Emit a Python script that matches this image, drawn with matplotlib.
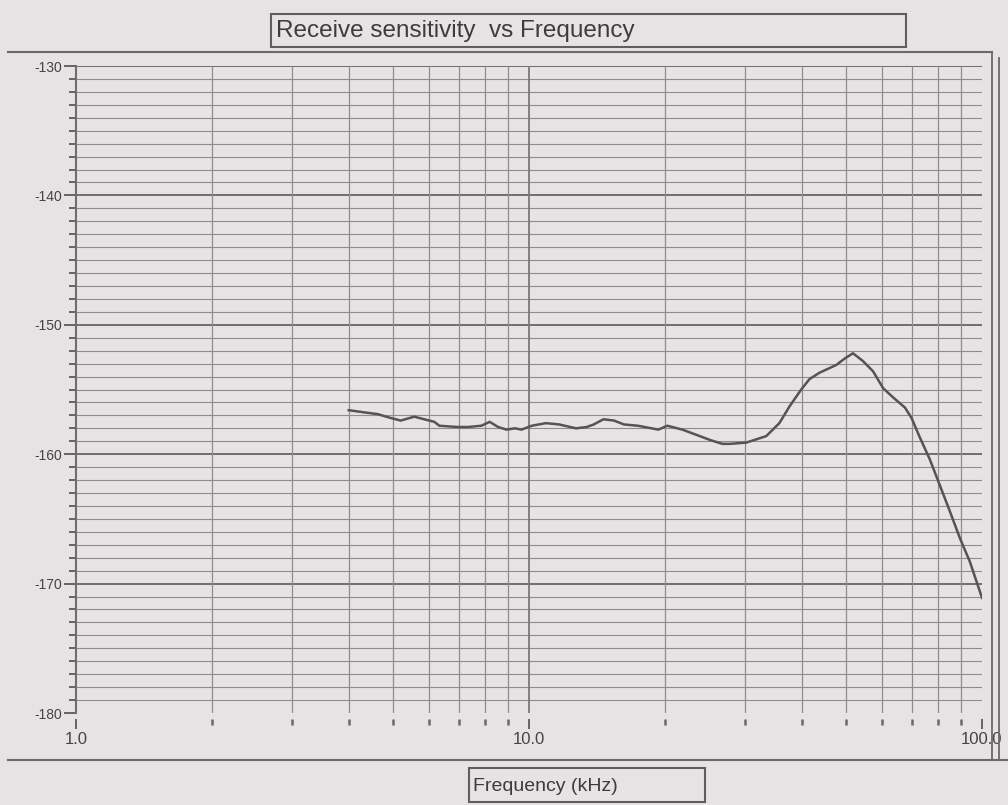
import matplotlib.pyplot as plt
import matplotlib.lines as mlines
import matplotlib.patches as mpatches
from matplotlib import font_manager
from matplotlib.ticker import FixedLocator, FixedFormatter, NullFormatter

# receive sensitivity
freq_khz = [4.0, 4.4, 4.63, 4.95, 5.21, 5.58, 5.87, 6.18, 6.34, 6.97,
            7.33, 7.85, 8.19, 8.55, 8.92, 9.31, 9.63, 10.14, 10.9, 11.65,
            12.7, 13.4, 13.9, 14.6, 15.4, 16.2, 17.4, 19.3, 20.2, 21.8,
            23.4, 25.1, 26.7, 27.8, 30.2, 33.4, 35.7, 37.6, 39.9, 41.6,
            43.8, 47.7, 49.8, 51.9, 54.6, 57.5, 60.5, 63.6, 67.6, 69.9,
            72.9, 76.7, 80.7, 84.9, 89.4, 94.0, 100.0]
sens_db = [-156.6, -156.8, -156.9, -157.2, -157.4, -157.1, -157.3, -157.5, -157.8, -157.9,
           -157.9, -157.8, -157.5, -157.9, -158.1, -158.0, -158.1, -157.8, -157.6, -157.7,
           -158.0, -157.9, -157.7, -157.3, -157.4, -157.7, -157.8, -158.1, -157.8, -158.1,
           -158.5, -158.9, -159.2, -159.2, -159.1, -158.6, -157.6, -156.3, -155.0, -154.2,
           -153.7, -153.1, -152.6, -152.2, -152.8, -153.6, -154.9, -155.6, -156.4, -157.2,
           -158.7, -160.4, -162.4, -164.4, -166.5, -168.3, -171.1]

y_ticks = [-180, -170, -160, -150, -140, -130]
y_tick_labels = ['-180', '-170', '-160', '-150', '-140', '-130']
x_ticks = [1.0, 10.0, 100.0]
x_tick_labels = ['1.0', '10.0', '100.0']
x_grid = [2, 3, 4, 5, 6, 7, 8, 9, 10, 20, 30, 40, 50, 60, 70, 80, 90]

title_txt = 'Receive sensitivity  vs Frequency'
xlabel_txt = 'Frequency (kHz)'

paper = '#e7e3e5'
grid_c = '#8e8c8d'
ink = '#555354'

names = {f.name for f in font_manager.fontManager.ttflist}
fam = 'Liberation Sans Narrow' if 'Liberation Sans Narrow' in names else 'Liberation Sans'
plt.rcParams['font.family'] = [fam, 'DejaVu Sans']

fig = plt.figure(figsize=(10.08, 8.05), dpi=100, facecolor=paper)
W, H = 1008, 805

ax = fig.add_axes([76 / W, 1 - 713 / H, 906 / W, 647 / H])
ax.set_facecolor(paper)
ax.set_xscale('log')
ax.set_xlim(1, 100)
ax.set_ylim(-180, -130)

# grid
for v in range(-179, -129):
    major = (v % 10 == 0)
    ax.axhline(v, color='#6f6d6e' if major else grid_c, lw=1.4 if major else 0.8, zorder=1)
for x in x_grid:
    ax.vlines(x, -180, -130, color='#7a7879' if x == 10 else grid_c,
              lw=1.3 if x == 10 else 0.9, zorder=1)

ax.plot(freq_khz, sens_db, color=ink, lw=1.8, zorder=3)

for s in ['top', 'right', 'bottom']:
    ax.spines[s].set_visible(False)
ax.spines['left'].set_color('#6f6d6e')
ax.spines['left'].set_linewidth(1.5)
ax.spines['bottom'].set_position(('outward', 4))

ax.yaxis.set_major_locator(FixedLocator(y_ticks))
ax.yaxis.set_major_formatter(FixedFormatter(y_tick_labels))
ax.yaxis.set_minor_locator(FixedLocator([v for v in range(-179, -130) if v % 10 != 0]))
ax.tick_params(axis='y', which='major', length=9, width=1.3, color='#5a5859',
               labelsize=10, labelcolor='#444', pad=1)
ax.tick_params(axis='y', which='minor', length=5, width=1.3, color='#5a5859')

ax.xaxis.set_major_locator(FixedLocator(x_ticks))
ax.xaxis.set_major_formatter(FixedFormatter(x_tick_labels))
ax.xaxis.set_minor_locator(FixedLocator(x_grid))
ax.xaxis.set_minor_formatter(NullFormatter())
ax.tick_params(axis='x', which='major', length=7, width=1.3, color='#5a5859',
               labelsize=12, labelcolor='#444', pad=3)
ax.tick_params(axis='x', which='minor', length=4, width=1.8, color='#6a6869')

# page frame lines
fig.add_artist(mlines.Line2D([8 / W, 992 / W], [1 - 52 / H, 1 - 52 / H],
                             transform=fig.transFigure, color='#6a6869', lw=1.5))
fig.add_artist(mlines.Line2D([8 / W, 1.0], [1 - 760 / H, 1 - 760 / H],
                             transform=fig.transFigure, color='#6a6869', lw=1.5))
fig.add_artist(mlines.Line2D([992 / W, 992 / W], [1 - 52 / H, 1 - 760 / H],
                             transform=fig.transFigure, color='#6a6869', lw=1.3))
fig.add_artist(mlines.Line2D([999 / W, 999 / W], [1 - 58 / H, 1 - 760 / H],
                             transform=fig.transFigure, color='#6a6869', lw=1.3))

# title box
fig.add_artist(mpatches.Rectangle((271 / W, 1 - 47 / H), 635 / W, 33 / H,
                                  transform=fig.transFigure, fill=False,
                                  edgecolor='#5f5d5e', lw=1.5))
fig.text(276 / W, 1 - 31 / H, title_txt, fontsize=17.5, color='#3d3b3c',
         va='center', ha='left')

# x label box
fig.add_artist(mpatches.Rectangle((469 / W, 1 - 802 / H), 236 / W, 34 / H,
                                  transform=fig.transFigure, fill=False,
                                  edgecolor='#5f5d5e', lw=1.5))
fig.text(473 / W, 1 - 786 / H, xlabel_txt, fontsize=14, color='#3d3b3c',
         va='center', ha='left')

fig.savefig('out.png', dpi=100, facecolor=paper)
